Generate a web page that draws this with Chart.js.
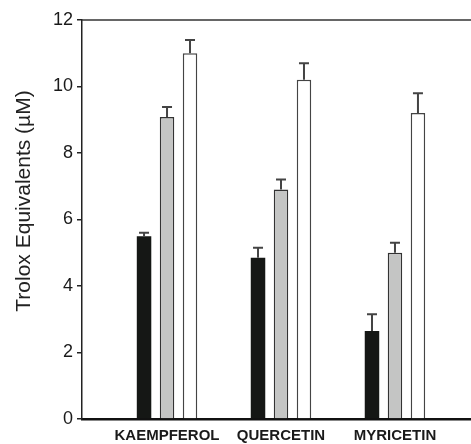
<!DOCTYPE html>
<html>
<head>
<meta charset="utf-8">
<script src="https://cdn.jsdelivr.net/npm/chart.js@4"></script>
<style>
  html, body { margin: 0; padding: 0; background: #fff; }
  #wrap { width: 471px; height: 444px; }
</style>
</head>
<body>
<div id="wrap"><canvas id="chart" width="471" height="444"></canvas></div>
<script>
// flavonols on the x axis
const categories = ['KAEMPFEROL', 'QUERCETIN', 'MYRICETIN'];

// three series per compound (black, grey, white bars)
const seriesBlack = [5.5, 4.85, 2.65];
const seriesGrey = [9.08, 6.9, 5.0];
const seriesWhite = [11.0, 10.2, 9.2];

// upward error bars
const errBlack = [0.1, 0.3, 0.5];
const errGrey = [0.3, 0.3, 0.3];
const errWhite = [0.4, 0.5, 0.6];

const yTicks = [0, 2, 4, 6, 8, 10, 12];
const yTitle = 'Trolox Equivalents (\u00b5M)';

const FONT = "'Liberation Sans', Arial, sans-serif";

function toPoints(vals) {
    return vals.map((v, i) => ({ x: i + 1, y: v }));
}

// draws the error bars, the top frame line and the y title
const extras = {
    id: 'extras',
    afterDatasetsDraw(chart) {
        const ctx = chart.ctx;
        const yScale = chart.scales.y;
        const errs = [errBlack, errGrey, errWhite];
        ctx.save();
        ctx.strokeStyle = '#444';
        ctx.lineWidth = 2;
        chart.data.datasets.forEach((ds, d) => {
            const meta = chart.getDatasetMeta(d);
            meta.data.forEach((bar, i) => {
                const top = yScale.getPixelForValue(ds.data[i].y + errs[d][i]);
                ctx.beginPath();
                ctx.moveTo(bar.x, bar.y);
                ctx.lineTo(bar.x, top);
                ctx.moveTo(bar.x - 5, top);
                ctx.lineTo(bar.x + 5, top);
                ctx.stroke();
            });
        });
        ctx.restore();
    },
    afterDraw(chart) {
        const ctx = chart.ctx;
        const area = chart.chartArea;
        ctx.save();
        ctx.strokeStyle = '#333';
        ctx.lineWidth = 1.5;
        ctx.beginPath();
        ctx.moveTo(area.left, area.top);
        ctx.lineTo(area.right, area.top);
        ctx.stroke();

        ctx.translate(24, 201);
        ctx.rotate(-Math.PI / 2);
        ctx.fillStyle = '#222';
        ctx.font = '21px ' + FONT;
        ctx.textAlign = 'center';
        ctx.textBaseline = 'middle';
        ctx.fillText(yTitle, 0, 0);
        ctx.restore();
    }
};

new Chart(document.getElementById('chart'), {
    type: 'bar',
    data: {
        datasets: [
            {
                label: 'black',
                data: toPoints(seriesBlack),
                backgroundColor: '#151715',
                borderColor: '#151715',
                borderWidth: 0
            },
            {
                label: 'grey',
                data: toPoints(seriesGrey),
                backgroundColor: '#c4c5c4',
                borderColor: '#333',
                borderWidth: 1.5
            },
            {
                label: 'white',
                data: toPoints(seriesWhite),
                backgroundColor: '#fff',
                borderColor: '#444',
                borderWidth: 1.5
            }
        ]
    },
    options: {
        responsive: false,
        animation: false,
        categoryPercentage: 0.605,
        barPercentage: 0.63,
        layout: { padding: { top: 20, right: 0, left: 0, bottom: 0 } },
        plugins: {
            legend: { display: false },
            tooltip: { enabled: false }
        },
        scales: {
            x: {
                type: 'linear',
                min: 0.254,
                max: 3.667,
                offset: false,
                afterBuildTicks(scale) {
                    scale.ticks = categories.map((c, i) => ({ value: i + 1 }));
                },
                afterFit(scale) { scale.height = 25; },
                ticks: {
                    callback: (v) => categories[v - 1] || '',
                    font: { family: FONT, size: 15, weight: 'bold' },
                    color: '#1a1a1a',
                    padding: 8,
                    maxRotation: 0,
                    autoSkip: false
                },
                grid: { display: false, drawTicks: false },
                border: { display: true, color: '#111', width: 2.5 }
            },
            y: {
                min: 0,
                max: 12,
                afterBuildTicks(scale) {
                    scale.ticks = yTicks.map(v => ({ value: v }));
                },
                afterFit(scale) { scale.width = 82; },
                ticks: {
                    font: { family: FONT, size: 18 },
                    color: '#1a1a1a',
                    padding: 4
                },
                grid: {
                    drawOnChartArea: false,
                    drawTicks: true,
                    tickLength: 5,
                    color: '#222',
                    lineWidth: 1.5
                },
                border: { display: true, color: '#222', width: 1.5 }
            }
        }
    },
    plugins: [extras]
});
</script>
</body>
</html>
